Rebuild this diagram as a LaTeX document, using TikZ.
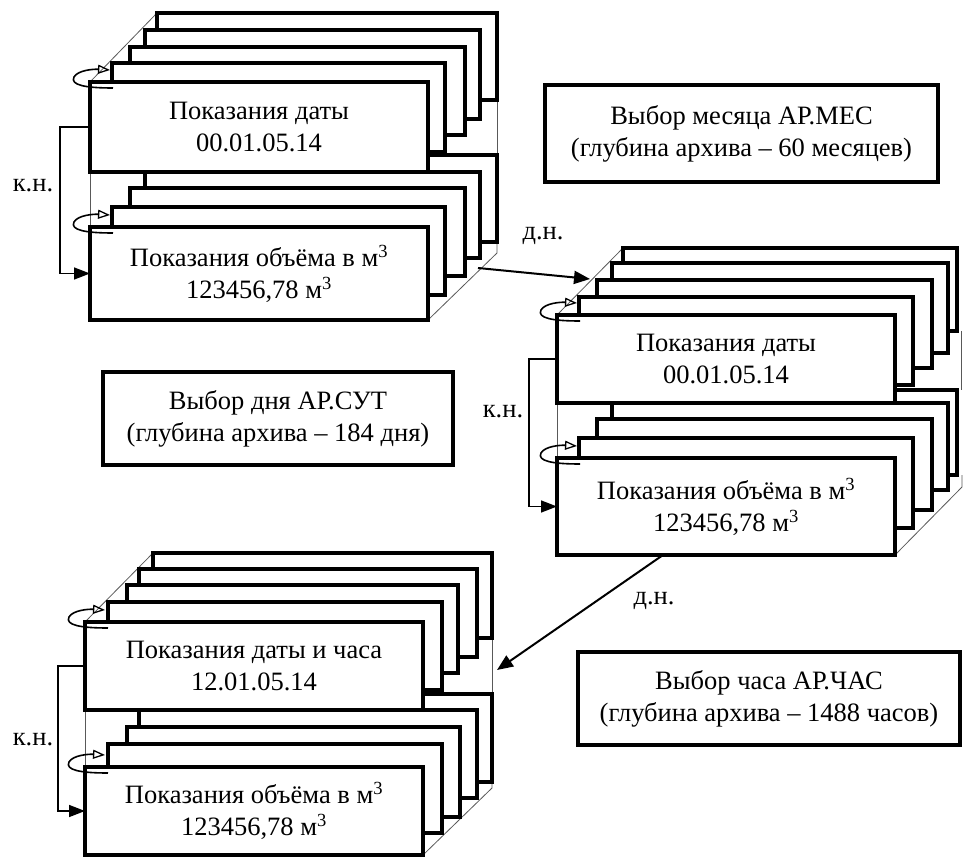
\documentclass[tikz,border=0pt]{standalone}
\usepackage{fontspec}
\setmainfont{Liberation Serif}
\usetikzlibrary{arrows.meta}
\newcommand\txtfont{\fontsize{26.5}{32}\selectfont}
\tikzset{
  card/.style={draw=black, line width=4.5pt, fill=white},
  front/.style={card, inner sep=0pt, outer sep=0pt, align=center, font=\txtfont},
  thinline/.style={draw=black!65, line width=0.8pt},
  loopline/.style={draw=black, line width=1.6pt, -{Triangle[open, length=12pt, width=9pt, line width=1.3pt]}},
  knline/.style={draw=black, line width=1.5pt, -{Triangle[length=16pt, width=12pt]}},
  dnline/.style={draw=black, line width=2pt, -{Triangle[length=16pt, width=13pt]}},
  lbl/.style={font=\txtfont, inner sep=0pt},
  infobox/.style={draw=black, line width=4.5pt, inner sep=0pt, outer sep=0pt, align=center, font=\txtfont}
}
\newcommand\cardloop[1]{%
  \begin{scope}[shift={(#1.north west)}]
    \draw[loopline] (23,6) .. controls (-5,6) and (-20,3) .. (-16,-5)
      .. controls (-12,-12) and (4,-13) .. (20,-12);
  \end{scope}}
\begin{document}
\begin{tikzpicture}[x=1pt, y=-1pt]
\useasboundingbox (0,0) rectangle (964,858);

% ---------- top-left stack ----------
\draw[thinline] (90,82) -- (157,13);
\draw[thinline] (90,172) -- (90,227);
\draw[thinline] (497,100) -- (497,155);
\draw[thinline] (428,320) -- (497,253) -- (497,242);
\foreach \a/\b/\c/\d in {157/155/497/242, 145/172/480/258, 130/188/465/276, 112/207/445/295}
  \draw[card] (\a,\b) rectangle (\c,\d);
\node[front, minimum width=338pt, minimum height=93pt] (v1) at (259,273.5)
  {Показания объёма в м\textsuperscript{3}\\123456,78 м\textsuperscript{3}};
\foreach \a/\b/\c/\d in {157/13/497/100, 145/30/480/119, 130/47/465/135, 112/63/445/152}
  \draw[card] (\a,\b) rectangle (\c,\d);
\node[front, minimum width=338pt, minimum height=90pt] (d1) at (259,127)
  {Показания даты\\00.01.05.14};
\cardloop{d1}
\cardloop{v1}
\draw[knline] (d1.west) -- ++(-30,0) |- (v1.west);
\node[lbl] (kn1) at (33,186) {к.н.};

% ---------- middle stack ----------
\draw[thinline] (557,315) -- (623,248);
\draw[thinline] (557,403) -- (557,458);
\draw[thinline] (961,331) -- (961,390);
\draw[thinline] (895,555) -- (962,487) -- (962,475);
\foreach \a/\b/\c/\d in {623/390/957/475, 612/403/948/490, 597/419/932/510, 579/438/913/528}
  \draw[card] (\a,\b) rectangle (\c,\d);
\node[front, minimum width=338pt, minimum height=97pt] (v2) at (726,506.5)
  {Показания объёма в м\textsuperscript{3}\\123456,78 м\textsuperscript{3}};
\foreach \a/\b/\c/\d in {623/248/957/331, 612/263/948/353, 597/280/932/368, 579/297/913/385}
  \draw[card] (\a,\b) rectangle (\c,\d);
\node[front, minimum width=338pt, minimum height=88pt] (d2) at (726,359)
  {Показания даты\\00.01.05.14};
\cardloop{d2}
\cardloop{v2}
\draw[knline] (d2.west) -- ++(-28,0) |- (v2.west);
\node[lbl] (kn2) at (503,412) {к.н.};

% ---------- bottom stack ----------
\draw[thinline] (85,622) -- (153,553);
\draw[thinline] (85,710) -- (85,767);
\draw[thinline] (492,638) -- (492,694);
\draw[thinline] (423,855) -- (492,788) -- (492,782);
\foreach \a/\b/\c/\d in {153/694/492/782, 139/710/477/798, 127/727/460/817, 108/744/442/833}
  \draw[card] (\a,\b) rectangle (\c,\d);
\node[front, minimum width=338pt, minimum height=88pt] (v3) at (254,811)
  {Показания объёма в м\textsuperscript{3}\\123456,78 м\textsuperscript{3}};
\foreach \a/\b/\c/\d in {153/553/492/638, 139/569/477/657, 127/585/458/673, 108/602/442/690}
  \draw[card] (\a,\b) rectangle (\c,\d);
\node[front, minimum width=338pt, minimum height=88pt] (d3) at (254,666)
  {Показания даты и часа\\12.01.05.14};
\cardloop{d3}
\cardloop{v3}
\draw[knline] (d3.west) -- ++(-27,0) |- (v3.west);
\node[lbl] (kn3) at (33,740) {к.н.};

% ---------- transitions ----------
\coordinate (dn1s) at (478,268);
\coordinate (dn1e) at (590,279);
\draw[dnline] (dn1s) -- (dn1e);
\node[lbl] (dn1) at (543,236) {д.н.};
\coordinate (dn2s) at (663,555);
\coordinate (dn2e) at (497,670);
\draw[dnline] (dn2s) -- (dn2e);
\node[lbl] (dn2) at (654,601) {д.н.};

% ---------- info boxes ----------
\node[infobox, minimum width=393pt, minimum height=97pt] (mes) at (741.5,133.5)
  {Выбор месяца АР.МЕС\\(глубина архива – 60 месяцев)};
\node[infobox, minimum width=350pt, minimum height=93pt] (sut) at (278,418.5)
  {Выбор дня АР.СУТ\\(глубина архива – 184 дня)};
\node[infobox, minimum width=382pt, minimum height=93pt] (chas) at (769,698.5)
  {Выбор часа АР.ЧАС\\(глубина архива – 1488 часов)};
\end{tikzpicture}
\end{document}
